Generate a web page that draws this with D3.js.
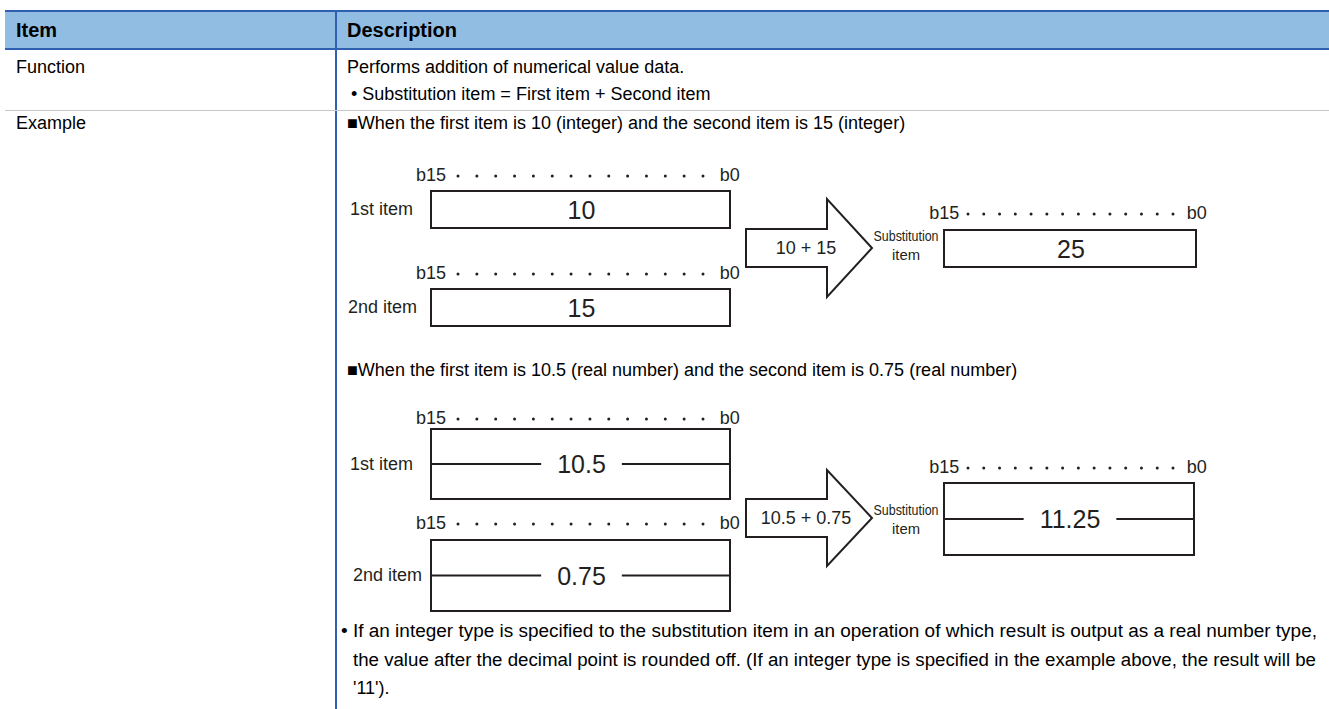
<!DOCTYPE html>
<html>
<head>
<meta charset="utf-8">
<script src="https://cdn.jsdelivr.net/npm/d3@7/dist/d3.min.js"></script>
<style>
  html, body { margin: 0; padding: 0; background: #fff; }
  svg { display: block; font-family: "Liberation Sans", Arial, sans-serif; }
</style>
</head>
<body>
<svg id="chart" width="1329" height="709"></svg>
<script>
// ---------- data ----------
const headers = ["Item", "Description"];
const rowLabels = ["Function", "Example"];
const functionLines = ["Performs addition of numerical value data.", "• Substitution item = First item + Second item"];
const exampleTitles = [
  "■When the first item is 10 (integer) and the second item is 15 (integer)",
  "■When the first item is 10.5 (real number) and the second item is 0.75 (real number)"
];
const operandLabels = ["1st item", "2nd item"];
const resultLabel = ["Substitution", "item"];
const bitLabels = ["b15", "b0"];
const dotBits = [14, 13, 12, 11, 10, 9, 8, 7, 6, 5, 4, 3, 2, 1];
const ex1Values = ["10", "15", "25"];
const ex2Values = ["10.5", "0.75", "11.25"];
const ex1Op = "10 + 15";
const ex2Op = "10.5 + 0.75";
const noteLines = [
  "• If an integer type is specified to the substitution item in an operation of which result is output as a real number type,",
  "the value after the decimal point is rounded off. (If an integer type is specified in the example above, the result will be",
  "'11')."
];

// ---------- styles ----------
const W = 1329, H = 709;
const blue = "#2f61b0", headFill = "#92bde3", ink = "#231f20";
const svg = d3.select("#chart");

// table geometry
const colX = d3.scaleOrdinal().domain(headers).range([5, 336]);
const colText = d3.scaleOrdinal().domain(headers).range([16, 347]);
const rowY = d3.scaleOrdinal().domain(rowLabels).range([67, 123]);

svg.append("rect").attr("x", 5).attr("y", 11).attr("width", W - 5).attr("height", 38).attr("fill", headFill);
svg.append("line").attr("x1", 5).attr("x2", W).attr("y1", 11).attr("y2", 11).attr("stroke", blue).attr("stroke-width", 2);
svg.append("line").attr("x1", 5).attr("x2", W).attr("y1", 49).attr("y2", 49).attr("stroke", blue).attr("stroke-width", 2);
svg.append("line").attr("x1", colX("Description")).attr("x2", colX("Description")).attr("y1", 10).attr("y2", H).attr("stroke", blue).attr("stroke-width", 2);
svg.append("line").attr("x1", 5).attr("x2", W).attr("y1", 110.5).attr("y2", 110.5).attr("stroke", "#c8c8c8").attr("stroke-width", 1);

svg.selectAll("text.head").data(headers).join("text").attr("class", "head")
  .attr("x", d => colText(d)).attr("y", 30).attr("dominant-baseline", "central")
  .attr("font-weight", "bold").attr("font-size", 20).attr("fill", "#000").text(d => d);

svg.selectAll("text.rowlab").data(rowLabels).join("text").attr("class", "rowlab")
  .attr("x", colText("Item")).attr("y", d => rowY(d)).attr("dominant-baseline", "central")
  .attr("font-size", 18).attr("fill", "#000").text(d => d);

const lineY = d3.scaleLinear().domain([0, 1]).range([67, 94]);
svg.selectAll("text.func").data(functionLines).join("text").attr("class", "func")
  .attr("x", (d, i) => i === 0 ? 347 : 351).attr("y", (d, i) => lineY(i)).attr("dominant-baseline", "central")
  .attr("font-size", 18).attr("fill", "#000").text(d => d);

const titleY = d3.scaleOrdinal().domain([0, 1]).range([123, 370]);
svg.selectAll("text.title").data(exampleTitles).join("text").attr("class", "title")
  .attr("x", 347).attr("y", (d, i) => titleY(i)).attr("dominant-baseline", "central")
  .attr("font-size", 18).attr("fill", "#000").text(d => d);

// ---------- diagram helpers ----------
function bitRow(g, xs, y) {
  g.append("text").attr("x", xs(15) + 7).attr("y", y).attr("text-anchor", "end").attr("dominant-baseline", "central")
    .attr("font-size", 18).attr("fill", ink).text(bitLabels[0]);
  g.append("text").attr("x", xs(0) - 2).attr("y", y).attr("text-anchor", "start").attr("dominant-baseline", "central")
    .attr("font-size", 18).attr("fill", ink).text(bitLabels[1]);
  g.selectAll(null).data(dotBits).join("circle")
    .attr("cx", d => xs(d)).attr("cy", y + 1).attr("r", 1.5).attr("fill", ink);
}
function box(g, x0, x1, y0, y1, value, split) {
  g.append("rect").attr("x", x0).attr("y", y0).attr("width", x1 - x0).attr("height", y1 - y0)
    .attr("fill", "#fff").attr("stroke", ink).attr("stroke-width", 2);
  const cx = (x0 + x1) / 2 + 1, cy = (y0 + y1) / 2;
  const t = g.append("text").attr("x", cx).attr("y", cy).attr("text-anchor", "middle").attr("dominant-baseline", "central")
    .attr("font-size", 25).attr("fill", ink).text(value);
  if (split) {
    const w = t.node().getComputedTextLength();
    g.append("line").attr("x1", x0).attr("x2", cx - w / 2 - 16).attr("y1", cy).attr("y2", cy).attr("stroke", ink).attr("stroke-width", 2);
    g.append("line").attr("x1", cx + w / 2 + 16).attr("x2", x1).attr("y1", cy).attr("y2", cy).attr("stroke", ink).attr("stroke-width", 2);
  }
}
function arrow(g, xL, xH, xT, yT, yB, yHT, yHB, label) {
  const yc = (yHT + yHB) / 2;
  const pts = [[xL, yT], [xH, yT], [xH, yHT], [xT, yc], [xH, yHB], [xH, yB], [xL, yB]];
  g.append("path").attr("d", d3.line()(pts) + "Z").attr("fill", "#fff").attr("stroke", ink).attr("stroke-width", 2).attr("stroke-linejoin", "miter");
  g.append("text").attr("x", xL + 60).attr("y", (yT + yB) / 2).attr("text-anchor", "middle").attr("dominant-baseline", "central")
    .attr("font-size", 18).attr("fill", ink).text(label);
}
function subLabel(g, cx, y0, y1) {
  g.append("text").attr("x", cx).attr("y", y0).attr("text-anchor", "middle").attr("dominant-baseline", "central")
    .attr("font-size", 14).attr("textLength", 65).attr("lengthAdjust", "spacingAndGlyphs").attr("fill", ink).text(resultLabel[0]);
  g.append("text").attr("x", cx).attr("y", y1).attr("text-anchor", "middle").attr("dominant-baseline", "central")
    .attr("font-size", 14).attr("textLength", 28).attr("lengthAdjust", "spacingAndGlyphs").attr("fill", ink).text(resultLabel[1]);
}
function opLabel(g, xEnd, y, txt) {
  g.append("text").attr("x", xEnd).attr("y", y).attr("text-anchor", "end").attr("dominant-baseline", "central")
    .attr("font-size", 18).attr("fill", ink).text(txt);
}

const xIn = d3.scaleLinear().domain([14, 1]).range([458, 703]);
const xOut = d3.scaleLinear().domain([14, 1]).range([968, 1173]);

// ---------- example 1 ----------
const g1 = svg.append("g");
bitRow(g1, xIn, 175);
box(g1, 431, 730, 191, 228, ex1Values[0], false);
opLabel(g1, 413, 209, operandLabels[0]);
bitRow(g1, xIn, 273);
box(g1, 431, 730, 289, 326, ex1Values[1], false);
opLabel(g1, 417, 307, operandLabels[1]);
arrow(g1, 746, 827, 872, 229, 267, 199, 297, ex1Op);
subLabel(g1, 906, 236, 255);
bitRow(g1, xOut, 213);
box(g1, 944, 1196, 230, 267, ex1Values[2], false);

// ---------- example 2 ----------
const g2 = svg.append("g");
bitRow(g2, xIn, 418);
box(g2, 431, 730, 429, 499, ex2Values[0], true);
opLabel(g2, 413, 464, operandLabels[0]);
bitRow(g2, xIn, 523);
box(g2, 431, 730, 540, 611, ex2Values[1], true);
opLabel(g2, 422, 575, operandLabels[1]);
arrow(g2, 746, 827, 872, 499, 537, 470, 566, ex2Op);
subLabel(g2, 906, 510, 529);
bitRow(g2, xOut, 467);
box(g2, 944, 1194, 483, 555, ex2Values[2], true);

// ---------- note ----------
const noteY = d3.scaleLinear().domain([0, 2]).range([631, 688]);
const noteX = [341, 353, 353];
const noteLen = [976, 963, null];
svg.selectAll("text.note").data(noteLines).join("text").attr("class", "note")
  .attr("x", (d, i) => noteX[i]).attr("y", (d, i) => noteY(i)).attr("dominant-baseline", "central")
  .attr("font-size", 18).attr("fill", "#000")
  .each(function(d, i) { if (noteLen[i]) d3.select(this).attr("textLength", noteLen[i]).attr("lengthAdjust", "spacingAndGlyphs"); })
  .text(d => d);
</script>
</body>
</html>
